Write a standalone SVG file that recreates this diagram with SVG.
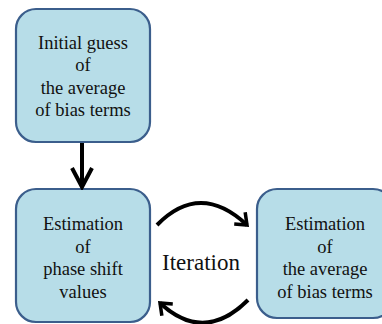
<svg xmlns="http://www.w3.org/2000/svg" width="382" height="324" viewBox="0 0 382 324">
<defs>
<style>
.box{fill:#b7dde8;stroke:#3b5e8c;stroke-width:2.2}
.t{font-family:"Liberation Serif","Times New Roman",serif;font-size:18.5px;fill:#111;text-anchor:middle}
.big{font-size:23px}
.c{fill:none;stroke:#000;stroke-width:4}
</style>
<marker id="down" markerUnits="userSpaceOnUse" viewBox="0 0 24 24" markerWidth="24" markerHeight="24" refX="21" refY="12" orient="auto">
<path d="M2,2 L21,12 L2,22" fill="none" stroke="#000" stroke-width="4"/>
</marker>
<marker id="cv" markerUnits="userSpaceOnUse" viewBox="0 0 18 18" markerWidth="18" markerHeight="18" refX="14" refY="9" orient="auto">
<path d="M4,1 L14,9 L4,17" fill="none" stroke="#000" stroke-width="3.5"/>
</marker>
</defs>
<g id="n1">
<rect class="box" x="16" y="9" width="134" height="133" rx="20"/>
<text class="t" x="83" y="49">Initial guess</text>
<text class="t" x="83" y="71">of</text>
<text class="t" x="83" y="93.5">the average</text>
<text class="t" x="83" y="116">of bias terms</text>
</g>
<g id="n2">
<rect class="box" x="16" y="189" width="134" height="133" rx="20"/>
<text class="t" x="83" y="230">Estimation</text>
<text class="t" x="83" y="252.5">of</text>
<text class="t" x="83" y="275">phase shift</text>
<text class="t" x="83" y="298">values</text>
</g>
<g id="n3">
<rect class="box" x="257" y="189" width="136" height="129" rx="20"/>
<text class="t" x="325" y="230">Estimation</text>
<text class="t" x="325" y="252.5">of</text>
<text class="t" x="325" y="275">the average</text>
<text class="t" x="325" y="298">of bias terms</text>
</g>
<g id="label">
<text class="t big" x="201" y="270">Iteration</text>
</g>
<g id="connectors">
<path class="c" d="M82,143 L82,187" marker-end="url(#down)"/>
<path class="c" d="M157,225 Q200,181 247,225" stroke-width="3.5" marker-end="url(#cv)"/>
<path class="c" d="M248,300 Q204,344 160,303" stroke-width="3.5" marker-end="url(#cv)"/>
</g>
</svg>
